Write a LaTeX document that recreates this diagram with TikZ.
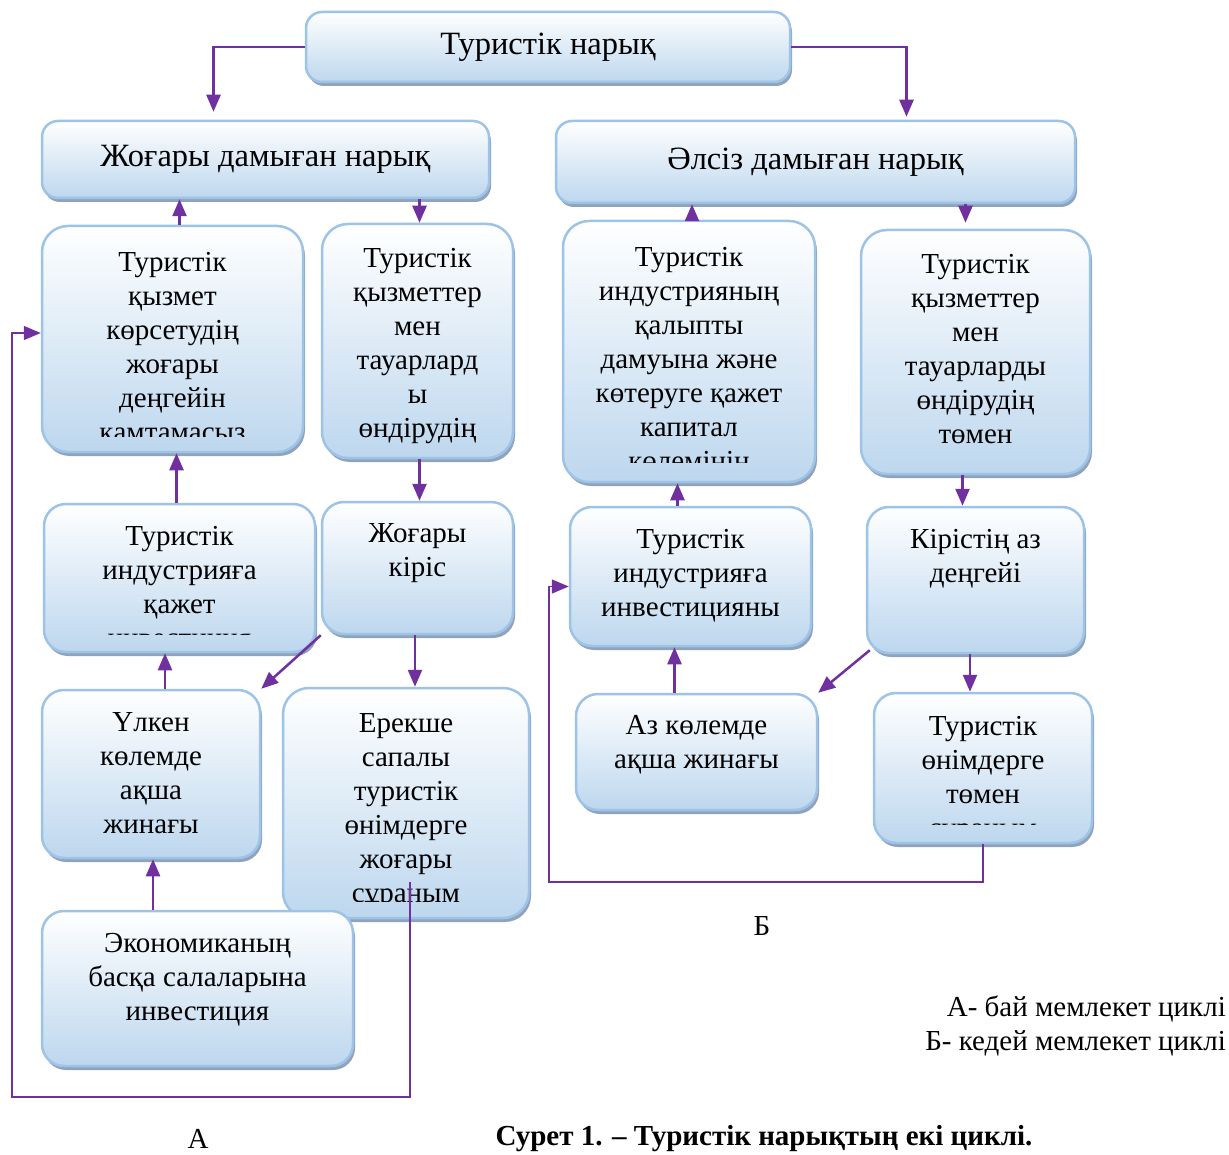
\documentclass[tikz,border=0pt]{standalone}
\usepackage{fontspec}
\setmainfont{Liberation Serif}
\usetikzlibrary{positioning, arrows.meta, shadows}

\definecolor{cyclepurple}{HTML}{7030A0}
\definecolor{boxedge}{HTML}{9DC3E6}
\definecolor{boxfill}{HTML}{BDD7EE}
\definecolor{boxshade}{HTML}{8FA3BD}

\tikzset{
	box/.style={draw=boxedge, line width=2.5pt, rounded corners=26pt, top color=white, bottom color=boxfill,
		drop shadow={shadow xshift=2pt, shadow yshift=-4pt, fill=boxshade, opacity=1}, inner sep=0pt},
	bar/.style={box, rounded corners=16pt, font=\fontsize{32.5}{38}\selectfont},
	txt/.style={align=center, inner sep=0pt, font=\fontsize{29}{34}\selectfont},
	arr/.style={draw=cyclepurple, line width=2.5pt, -{Triangle[width=14pt,length=17pt]}},
	backline/.style={draw=cyclepurple, line width=1.5pt, -{Triangle[width=14pt,length=17pt]}},
}

\begin{document}
\begin{tikzpicture}[x=1pt, y=-1pt]
		\useasboundingbox (0,0) rectangle (1229,1155);
		% markets
		\node[bar, minimum width=484pt, minimum height=70pt] (market) at (548,47) {Туристік нарық};
		\node[bar, minimum width=447pt, minimum height=77pt] (high) at (265.5,159.5) {Жоғары дамыған нарық};
		\node[bar, minimum width=519pt, minimum height=82pt] (weak) at (815.5,162) {Әлсіз дамыған нарық};
		% cycle A
		\node[box, minimum width=261pt, minimum height=226pt] (hserv) at (172.5,339) {};
		\node[box, minimum width=191pt, minimum height=234pt] (hprod) at (417.5,341) {};
		\node[box, rounded corners=22pt, minimum width=271pt, minimum height=148pt] (hinv) at (179.5,578) {};
		\node[box, rounded corners=22pt, minimum width=191pt, minimum height=132pt] (hinc) at (417.5,568) {};
		\node[box, rounded corners=22pt, minimum width=218pt, minimum height=168pt] (hsave) at (151,774) {};
		\node[box, minimum width=246pt, minimum height=230pt] (hdem) at (406,803) {};
		\node[box, rounded corners=22pt, minimum width=311pt, minimum height=155pt] (hecon) at (197.5,988.5) {};
		\begin{scope}
			\clip (42,226) rectangle (303,436);
			\node[txt, below=27pt of hserv.north] (hserv-t) {Туристік\\қызмет\\көрсетудің\\жоғары\\деңгейін\\қамтамасыз};
		\end{scope}
		\node[txt, below=25pt of hprod.north] (hprod-t) {Туристік\\қызметтер\\мен\\тауарлард\\ы\\өндірудің};
		\begin{scope}
			\clip (44,504) rectangle (315,634);
			\node[txt, below=23pt of hinv.north] (hinv-t) {Туристік\\индустрияға\\қажет\\инвестиция};
		\end{scope}
		\node[txt, below=23pt of hinc.north] (hinc-t) {Жоғары\\кіріс};
		\node[txt, below=24pt of hsave.north] (hsave-t) {Үлкен\\көлемде\\ақша\\жинағы};
		\begin{scope}
			\clip (283,688) rectangle (529,901);
			\node[txt, below=27pt of hdem.north] (hdem-t) {Ерекше\\сапалы\\туристік\\өнімдерге\\жоғары\\сұраным};
		\end{scope}
		\node[txt, below=23pt of hecon.north] (hecon-t) {Экономиканың\\басқа салаларына\\инвестиция};
		% cycle B
		\node[box, minimum width=252pt, minimum height=261pt] (wcap) at (689,351.5) {};
		\node[box, minimum width=229pt, minimum height=244pt] (wprod) at (975.5,352) {};
		\node[box, rounded corners=22pt, minimum width=241pt, minimum height=139pt] (winv) at (690.5,576.5) {};
		\node[box, rounded corners=22pt, minimum width=217pt, minimum height=146pt] (winc) at (975.5,580) {};
		\node[box, rounded corners=22pt, minimum width=241pt, minimum height=116pt] (wsave) at (696.5,752) {};
		\node[box, rounded corners=22pt, minimum width=218pt, minimum height=150pt] (wdem) at (983,768) {};
		\begin{scope}
			\clip (563,221) rectangle (815,462);
			\node[txt, below=27pt of wcap.north] (wcap-t) {Туристік\\индустрияның\\қалыпты\\дамуына және\\көтеруге қажет\\капитал\\көлемінің};
		\end{scope}
		\node[txt, below=25pt of wprod.north] (wprod-t) {Туристік\\қызметтер\\мен\\тауарларды\\өндірудің\\төмен};
		\node[txt, below=23pt of winv.north] (winv-t) {Туристік\\индустрияға\\инвестицияны};
		\node[txt, below=23pt of winc.north] (winc-t) {Кірістің аз\\деңгейі};
		\node[txt, below=22pt of wsave.north] (wsave-t) {Аз көлемде\\ақша жинағы};
		\begin{scope}
			\clip (874,693) rectangle (1092,824);
			\node[txt, below=24pt of wdem.north] (wdem-t) {Туристік\\өнімдерге\\төмен\\сұраным};
		\end{scope}
		% labels
		\node[txt] (labB) at (762,926) {Б};
		\node[txt] (labA) at (198,1139) {А};
		\node[txt, font=\fontsize{29}{34}\selectfont\bfseries] (caption) at (764,1139) {Сурет 1. – Туристік нарықтың екі циклі.};
		\node[txt, align=right, anchor=north east] (legend) at (1226,996) {А- бай мемлекет циклі\\Б- кедей мемлекет циклі};
		% arrows
		\draw[arr] (market.west) -| ([xshift=-52pt,yshift=8pt]high.north);
		\draw[arr] (market.east) -| ([xshift=91pt,yshift=3pt]weak.north);
		\draw[arr] ([xshift=7pt]hserv.north) -- ([xshift=7pt]hserv.north |- high.south);
		\draw[arr] ([xshift=2pt]hprod.north |- high.south) -- ([xshift=2pt]hprod.north);
		\draw[arr] ([xshift=-3pt]hinv.north) -- ([xshift=-3pt]hinv.north |- hserv.south);
		\draw[arr] ([xshift=2pt]hprod.south) -- ([xshift=2pt]hinc.north);
		\draw[arr] (hinc.south west) -- (hsave.north east);
		\draw[arr] ([xshift=9pt]hdem.north |- hinc.south) -- ([xshift=9pt]hdem.north);
		\draw[arr] ([xshift=14pt]hsave.north) -- ([xshift=14pt]hsave.north |- hinv.south);
		\draw[arr] ([xshift=2pt]hsave.south |- hecon.north) -- ([xshift=2pt]hsave.south);
		\coordinate (backA) at (410,882);
		\coordinate (cornerA) at (12,1097);
		\draw[backline] (backA) |- (cornerA) |- ([yshift=6pt]hserv.west);
		\draw[arr] ([xshift=3pt]wcap.north) -- ([xshift=3pt]wcap.north |- weak.south);
		\draw[arr] ([xshift=-10pt]wprod.north |- weak.south) -- ([xshift=-10pt,yshift=6pt]wprod.north);
		\draw[arr] ([xshift=-13pt]winv.north) -- ([xshift=-13pt]winv.north |- wcap.south);
		\draw[arr] ([xshift=-13pt]wprod.south) -- ([xshift=-13pt]winc.north);
		\draw[arr] ([xshift=4pt,yshift=4pt]winc.south west) -- (wsave.north east);
		\draw[arr] ([xshift=-13pt]wdem.north |- winc.south) -- ([xshift=-13pt]wdem.north);
		\draw[arr] ([xshift=-22pt]wsave.north) -- ([xshift=-22pt]wsave.north |- winv.south);
		\coordinate (cornerB) at (549,882);
		\draw[backline] (wdem.south) |- (cornerB) |- ([yshift=-10pt]winv.west);
	\end{tikzpicture}
\end{document}
